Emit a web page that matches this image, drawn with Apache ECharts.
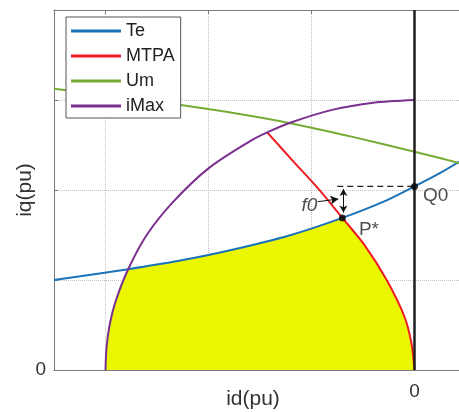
<!DOCTYPE html>
<html>
<head>
<meta charset="utf-8">
<script src="https://cdn.jsdelivr.net/npm/echarts@6/dist/echarts.min.js"></script>
<style>
  html, body { margin: 0; padding: 0; background: #fff; }
  #chart { width: 459px; height: 412px; }
</style>
</head>
<body>
<div id="chart"></div>
<script>
// Constant-torque curve Te: [id, iq]
const teCurve = [[-3.5, 1.0], [-2.78, 1.12], [-2.3, 1.21], [-1.79, 1.33], [-1.2, 1.50],
                 [-0.70, 1.69], [-0.3, 1.87], [0, 2.04], [0.25, 2.19], [0.5, 2.36]];
// Maximum torque per ampere trajectory, from the origin up to the current limit
const mtpaCurve = [[0, 0], [-0.03, 0.3], [-0.10, 0.6], [-0.27, 1.0], [-0.48, 1.38],
                   [-0.70, 1.69], [-0.93, 2.01], [-1.17, 2.31], [-1.43, 2.64]];
// Voltage limit Um
const umCurve = [[-3.5, 3.124], [-2.9, 3.04], [-2.27, 2.944], [-1.7, 2.845], [-1.23, 2.748],
                 [-0.6, 2.59], [0, 2.426], [0.5, 2.28]];
// Current limit iMax (quarter circle)
const iMaxCurve = [[-3, 0], [-2.99, 0.25], [-2.96, 0.5], [-2.9, 0.77], [-2.78, 1.12],
                   [-2.6, 1.5], [-2.35, 1.86], [-2.0, 2.24], [-1.6, 2.54], [-1.43, 2.64],
                   [-1.2, 2.75], [-0.8, 2.89], [-0.4, 2.97], [0, 3]];
// Operating points
const pointNames = ['P*', 'Q0'];
const pointValues = [[-0.70, 1.69], [0, 2.04]];
// Where the torque curve meets the current limit
const crossId = -2.78;
// Start of the dashed reference level through Q0
const dashStartId = -0.75;
// f0 gap marker and its pointer
const f0Gap = [[-0.69, 2.01], [-0.69, 1.75]];
const f0Pointer = [[-0.94, 1.87], [-0.74, 1.90]];
const f0Label = [-1.02, 1.83];
// Axis ranges
const idRange = [-3.5, 0.5];
const iqRange = [0, 4];

const pStar = pointValues[0];
const q0 = pointValues[1];

// Boundary of the feasible region: current circle, then torque curve, then MTPA back to the origin
const regionEdge = iMaxCurve.filter(p => p[0] <= crossId)
  .concat(teCurve.filter(p => p[0] > crossId && p[0] <= pStar[0]))
  .concat(mtpaCurve.filter(p => p[1] < pStar[1]).slice().reverse());

const FONT = '"Liberation Sans", Arial, sans-serif';
const axisGrey = '#7a7a7a';
const gridGrey = '#c2c2c2';

const chart = echarts.init(document.getElementById('chart'), null, { renderer: 'canvas' });

chart.setOption({
  animation: false,
  backgroundColor: '#fff',
  textStyle: { fontFamily: FONT },
  grid: { left: 54, top: 10, right: -7, bottom: 42, containLabel: false, outerBoundsMode: 'none' },
  legend: {
    data: ['Te', 'MTPA', 'Um', 'iMax'],
    orient: 'vertical',
    left: 66, top: 17,
    padding: [5, 6, 3, 5],
    itemWidth: 50, itemHeight: 3, itemGap: 7,
    icon: 'rect',
    backgroundColor: '#fff',
    borderColor: '#555', borderWidth: 1,
    textStyle: { fontSize: 18, lineHeight: 18, color: '#222', fontFamily: FONT },
    selectedMode: false
  },
  xAxis: [{
    type: 'value', min: idRange[0], max: idRange[1], position: 'bottom',
    axisLine: { onZero: false, lineStyle: { color: axisGrey, width: 1 } },
    axisTick: { inside: true, length: 4, lineStyle: { color: axisGrey } },
    axisLabel: { formatter: v => (v === 0 ? '0' : ''), fontSize: 19, color: '#333', margin: 12, fontFamily: FONT },
    splitLine: { show: true, lineStyle: { type: 'dotted', color: gridGrey, width: 1 } },
    name: 'id(pu)', nameLocation: 'middle', nameGap: 19, nameMoveOverlap: false,
    nameTextStyle: { fontSize: 21, color: '#333', padding: [0, 14, 0, 0], fontFamily: FONT }
  }, {
    type: 'value', min: idRange[0], max: idRange[1], position: 'top',
    axisLine: { onZero: false, lineStyle: { color: axisGrey, width: 1 } },
    axisTick: { inside: true, length: 4, lineStyle: { color: axisGrey } },
    axisLabel: { show: false },
    splitLine: { show: false }
  }],
  yAxis: {
    type: 'value', min: iqRange[0], max: iqRange[1], interval: 1,
    axisLine: { show: true, onZero: false, lineStyle: { color: axisGrey, width: 1 } },
    axisTick: { show: true, inside: true, length: 4, lineStyle: { color: axisGrey } },
    axisLabel: { formatter: v => (v === 0 ? '0' : ''), fontSize: 19, color: '#333', margin: 8, fontFamily: FONT },
    splitLine: { show: true, lineStyle: { type: 'dotted', color: gridGrey, width: 1 } },
    name: 'iq(pu)', nameLocation: 'middle', nameGap: 18, nameMoveOverlap: false,
    nameTextStyle: { fontSize: 21, color: '#333', fontFamily: FONT }
  },
  series: [
    {
      type: 'line', data: regionEdge, showSymbol: false, silent: true, z: 1,
      lineStyle: { width: 0 }, areaStyle: { color: '#eaf700', opacity: 1 }
    },
    {
      name: 'Te', type: 'line', data: teCurve, showSymbol: false, smooth: 0.3, z: 3,
      itemStyle: { color: '#1a72b8' }, lineStyle: { color: '#1a72b8', width: 2 }
    },
    {
      name: 'MTPA', type: 'line', data: mtpaCurve, showSymbol: false, smooth: 0.3, z: 3,
      itemStyle: { color: '#ee1c24' }, lineStyle: { color: '#ee1c24', width: 2 }
    },
    {
      name: 'Um', type: 'line', data: umCurve, showSymbol: false, smooth: 0.3, z: 3,
      itemStyle: { color: '#76ac35' }, lineStyle: { color: '#76ac35', width: 2 }
    },
    {
      name: 'iMax', type: 'line', data: iMaxCurve, showSymbol: false, smooth: 0.3, z: 3,
      itemStyle: { color: '#7b2f8f' }, lineStyle: { color: '#7b2f8f', width: 2 }
    },
    {
      type: 'line', data: [[0, iqRange[0]], [0, iqRange[1]]], showSymbol: false, silent: true, z: 4,
      lineStyle: { color: '#1e1e1e', width: 2.5 }
    },
    {
      type: 'line', data: [[dashStartId, q0[1]], q0], showSymbol: false, silent: true, z: 4,
      lineStyle: { color: '#222', width: 1.3, type: [6, 4] }
    },
    {
      type: 'line', data: [], silent: true, z: 5,
      markLine: {
        silent: true, animation: false,
        label: { show: false },
        lineStyle: { color: '#111', width: 1, type: 'solid' },
        data: [
          [{ coord: f0Gap[0], symbol: 'arrow', symbolSize: [6, 7] },
           { coord: f0Gap[1], symbol: 'arrow', symbolSize: [6, 7] }],
          [{ coord: f0Pointer[0], symbol: 'none' },
           { coord: f0Pointer[1], symbol: 'arrow', symbolSize: [7, 8] }]
        ]
      }
    },
    {
      type: 'scatter', silent: true, z: 6,
      data: pointValues.map((p, i) => ({
        value: p, name: pointNames[i],
        label: { offset: i === 0 ? [8, 12] : [0, 9] }
      })),
      symbolSize: 7, itemStyle: { color: '#000' },
      label: {
        show: true, position: 'right', formatter: '{b}',
        fontSize: 19, color: '#222', fontFamily: FONT
      }
    },
    {
      type: 'scatter', silent: true, z: 6,
      data: [{ value: f0Label, name: 'f0' }],
      symbolSize: 0,
      label: {
        show: true, position: 'inside', formatter: '{b}',
        fontSize: 19, fontStyle: 'italic', color: '#222', fontFamily: FONT
      }
    }
  ]
});
</script>
</body>
</html>
